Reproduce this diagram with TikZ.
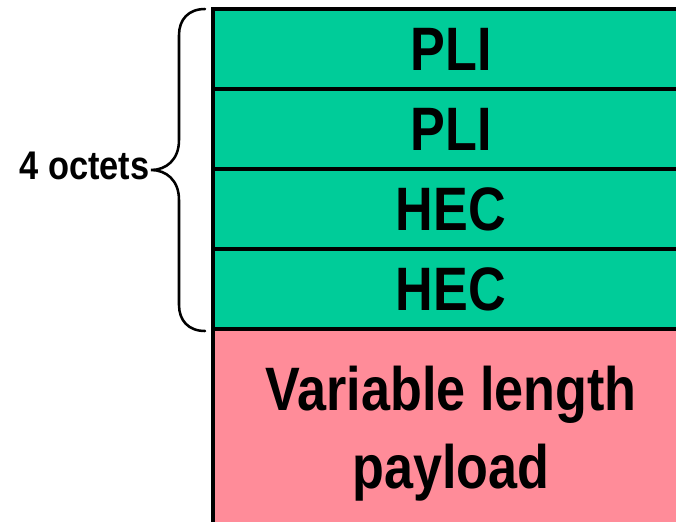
\documentclass[tikz,border=0pt]{standalone}
\usepackage{fontspec}
\newfontfamily\lblfont{Liberation Sans}[FakeStretch=0.85]
\newfontfamily\sidefont{Liberation Sans}[FakeStretch=0.86]
\definecolor{hdrgreen}{RGB}{0,204,153}
\definecolor{payloadpink}{RGB}{255,140,153}
\begin{document}
\begin{tikzpicture}[x=0.75pt,y=-0.75pt,
  field/.style={draw=black, line width=2.4pt, minimum width=476*0.75pt,
    inner sep=0pt, font=\lblfont\bfseries\fontsize{46}{58.5}\selectfont},
  hdr/.style={field, fill=hdrgreen, minimum height=80*0.75pt},
  payload/.style={field, fill=payloadpink, minimum height=212*0.75pt, align=center},
  bracepath/.style={draw=black, line width=1.9pt, line cap=round}]
  \useasboundingbox (0,0) rectangle (676,522);
  \clip (0,0) rectangle (676,522);
  % payload first, header fields on top so their borders stay crisp
  \node[payload] (pay) at (451,434) {Variable length\\payload};
  \node[hdr] (pli1) at (451,49)  {PLI};
  \node[hdr] (pli2) at (451,129) {PLI};
  \node[hdr] (hec1) at (451,209) {HEC};
  \node[hdr] (hec2) at (451,289) {HEC};
  % curly brace spanning the four header octets
  \coordinate (btop) at (205,9);
  \coordinate (bbot) at (205,331);
  \coordinate (btip) at (151,170);
  \draw[bracepath] (btop) .. controls (188,9) and (179,20) .. (179,35)
    -- (179,140) .. controls (179,160) and (166,170) .. (btip)
    .. controls (166,170) and (179,180) .. (179,200)
    -- (179,305) .. controls (179,320) and (188,331) .. (bbot);
  \node[anchor=east, inner sep=1pt, yshift=3pt,
    font=\sidefont\bfseries\fontsize{30}{35}\selectfont]
    (oct) at (btip) {4 octets};
\end{tikzpicture}
\end{document}
